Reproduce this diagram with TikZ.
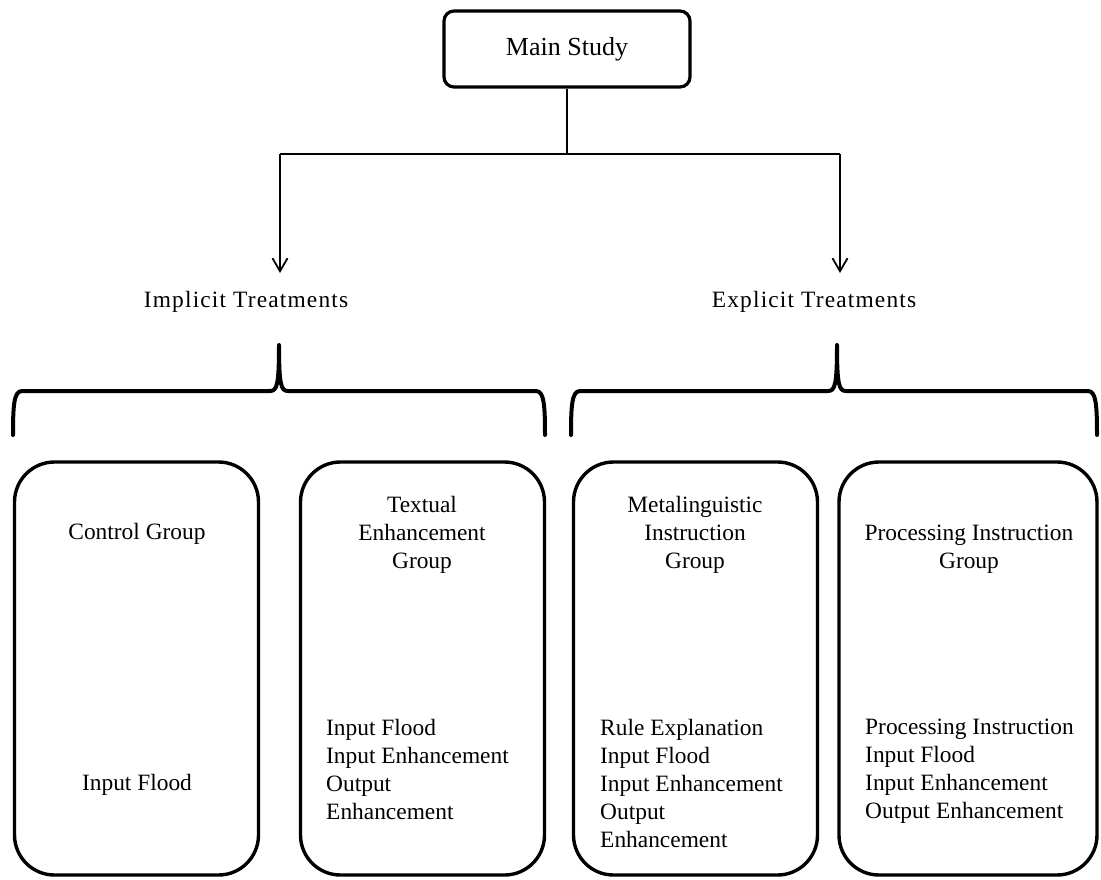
\documentclass[tikz,border=0pt]{standalone}
\usepackage{fontspec}
\setmainfont{Liberation Serif}
\newfontfamily\spacedfont[LetterSpace=5]{Liberation Serif}
\usetikzlibrary{arrows.meta}
\begin{document}
\begin{tikzpicture}[x=1pt,y=-1pt,
  txt/.style={inner sep=0pt,font=\fontsize{23.4}{28}\selectfont},
  mainbox/.style={draw,line width=3.2pt,rounded corners=10pt,minimum width=246pt,minimum height=76pt,inner sep=0pt,font=\fontsize{26}{30}\selectfont},
  groupbox/.style={draw,line width=3.4pt,rounded corners=40pt,minimum height=413pt,inner sep=0pt},
  conn/.style={line width=1.8pt},
  arr/.style={line width=1.8pt,-{Straight Barb[length=13pt,width=15pt,line width=1.8pt]}},
  brace/.style={line width=4pt,line cap=round,line join=round}
]
\useasboundingbox (0,0) rectangle (1101,879);

% main node
\node[mainbox] (main) at (567,49) {Main Study};

% connector coordinates
\coordinate (jn) at (567,154);
\coordinate (jl) at (280,154);
\coordinate (jr) at (840,154);
\coordinate (al) at (280,273);
\coordinate (ar) at (840,273);
\draw[conn] (main.south) -- (jn);
\draw[conn] (jl) -- (jr);
\draw[arr] (jl) -- (al);
\draw[arr] (jr) -- (ar);

% treatment labels
\node[txt,anchor=base,font=\fontsize{23.4}{28}\spacedfont] (impl) at (246,307) {Implicit Treatments};
\node[txt,anchor=base,font=\fontsize{23.4}{28}\spacedfont] (expl) at (814,307) {Explicit Treatments};

% braces
\draw[brace] (13,435) .. controls (13,405) and (14,391) .. (22,391) -- (270,391)
  .. controls (277,391) and (279,385) .. (279,345)
  .. controls (279,385) and (281,391) .. (288,391) -- (536,391)
  .. controls (544,391) and (545,405) .. (545,435);
\draw[brace] (571,435) .. controls (571,405) and (572,391) .. (580,391) -- (828,391)
  .. controls (835,391) and (837,385) .. (837,345)
  .. controls (837,385) and (839,391) .. (846,391) -- (1088,391)
  .. controls (1096,391) and (1097,405) .. (1097,435);

% group boxes
\node[groupbox,minimum width=244pt] (g1) at (136.5,668.5) {};
\node[groupbox,minimum width=244pt] (g2) at (422.5,668.5) {};
\node[groupbox,minimum width=244pt] (g3) at (695.5,668.5) {};
\node[groupbox,minimum width=258pt] (g4) at (968,668.5) {};

% box texts
\node[txt,anchor=base] (t1) at (137,539) {Control Group};
\node[txt,anchor=base] (l1) at (137,790) {Input Flood};

\node[txt,anchor=north,align=center] (t2) at (422,496) {Textual\\Enhancement\\Group};
\node[txt,anchor=north west,align=left] (l2) at (326,719) {Input Flood\\Input Enhancement\\Output\\Enhancement};

\node[txt,anchor=north,align=center] (t3) at (695,496) {Metalinguistic\\Instruction\\Group};
\node[txt,anchor=north west,align=left] (l3) at (600,719) {Rule Explanation\\Input Flood\\Input Enhancement\\Output\\Enhancement};

\node[txt,anchor=north,align=center] (t4) at (969,525) {Processing Instruction\\Group};
\node[txt,anchor=north west,align=left] (l4) at (865,719) {Processing Instruction\\Input Flood\\Input Enhancement\\Output Enhancement};
\end{tikzpicture}
\end{document}
